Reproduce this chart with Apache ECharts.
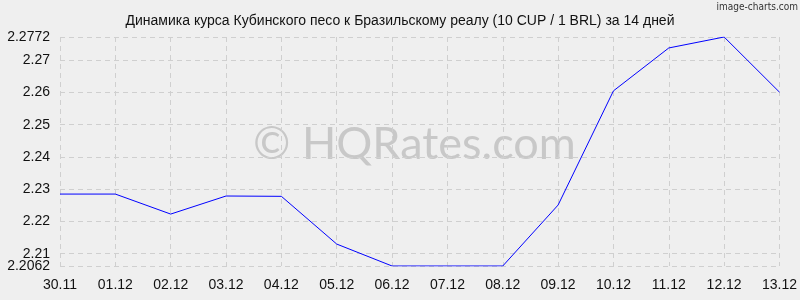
<!DOCTYPE html>
<html><head><meta charset="utf-8">
<script src="https://cdn.jsdelivr.net/npm/echarts@6/dist/echarts.min.js"></script>
<style>html,body{margin:0;padding:0;background:#efefef}#c{width:800px;height:300px}</style>
</head><body><div id="c"></div>
<script>
const titleText = 'Динамика курса Кубинского песо к Бразильскому реалу (10 CUP / 1 BRL) за 14 дней';
const categories = ['30.11','01.12','02.12','03.12','04.12','05.12','06.12','07.12','08.12','09.12','10.12','11.12','12.12','13.12'];
const rates = [2.2285,2.2285,2.2223,2.2279,2.2278,2.2130,2.2062,2.2062,2.2062,2.2251,2.2605,2.2738,2.2772,2.2601];
const yMin = 2.2062, yMax = 2.2772;

const labelStyle = {fontFamily:'Liberation Sans',fontSize:14,color:'#111',margin:10};
const fmt = v => String(+(+v).toFixed(4));
const chart = echarts.init(document.getElementById('c'), null, {renderer:'canvas'});
chart.setOption({
  backgroundColor:'#efefef',
  animation:false,
  title:{text:titleText,left:'center',top:9,textStyle:{fontFamily:'Liberation Sans',fontSize:14,fontWeight:'normal',color:'#111'}},
  graphic:[
    {type:'text',left:253,top:122,style:{text:'© HQRates.com',fontFamily:'Lato',fontSize:45,fill:'#c8c8c8'},z:0},
    {type:'text',right:2,top:2,style:{text:'image-charts.com',fontFamily:'DejaVu Sans Condensed',fontSize:10,fill:'#333'}}
  ],
  grid:{left:60,right:20,top:37,bottom:34,containLabel:false},
  xAxis:{type:'category',data:categories,boundaryGap:false,
    axisLine:{show:false},axisTick:{show:false},
    axisLabel:{fontFamily:'Liberation Sans',fontSize:14,color:'#111',margin:12,interval:0},
    splitLine:{show:true,lineStyle:{color:'#cfcfcf',type:[5,4],width:1}}},
  yAxis:[
    {type:'value',min:yMin,max:yMax,
      axisLine:{show:false},axisTick:{show:false},
      axisLabel:Object.assign({showMinLabel:false,showMaxLabel:true,formatter:fmt},labelStyle),
      splitLine:{show:true,lineStyle:{color:'#cfcfcf',type:[5,4],width:1}}},
    {type:'value',min:yMin,max:yMax,position:'left',
      axisLine:{show:false},axisTick:{show:false},splitLine:{show:false},
      axisLabel:Object.assign({showMinLabel:true,showMaxLabel:false,
        formatter:v => (Math.abs(v-yMin)<1e-9 ? fmt(yMin) : '')},labelStyle)}
  ],
  series:[{type:'line',data:rates,symbol:'none',lineStyle:{color:'#0000ff',width:1},z:5}]
});
</script></body></html>
